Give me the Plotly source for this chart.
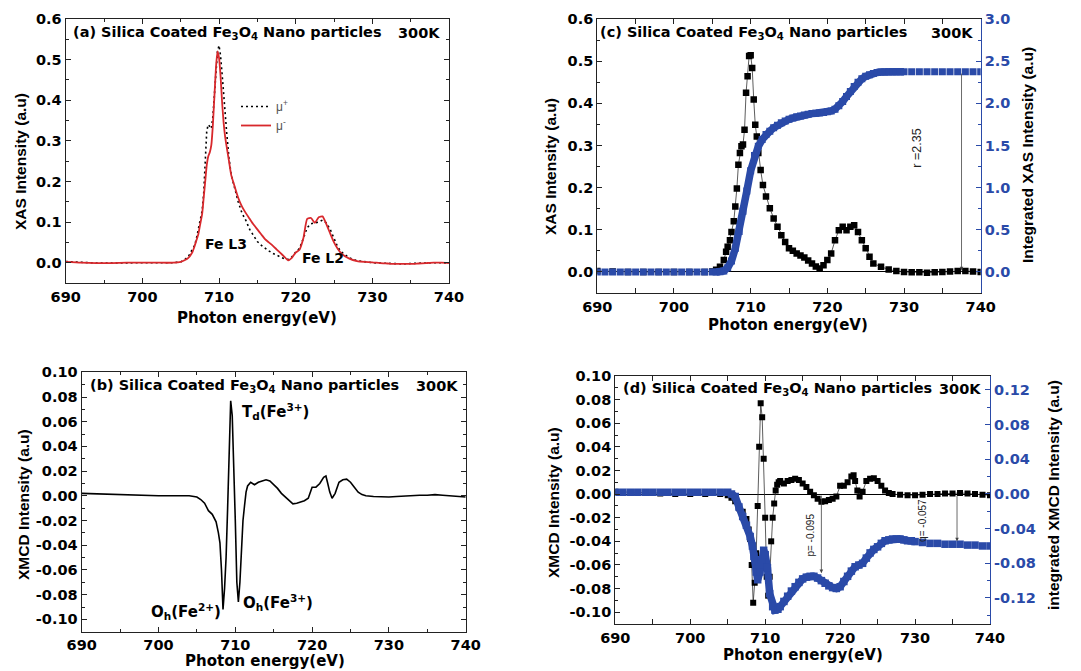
import plotly.graph_objects as go

W, H = 1081, 671
BLUE = '#2a4aa8'
RED = '#d8282c'
AX = '#222222'

# ---------------- data ----------------
E_xas = [690, 692, 694, 696, 698, 700, 702, 704,
         705, 705.5, 706, 706.5, 706.8, 707, 707.3, 707.5, 707.8, 708,
         708.2, 708.4, 708.6, 708.8, 709, 709.2, 709.4, 709.6, 709.8, 710,
         710.2, 710.4, 710.6, 710.8, 711, 711.3, 711.6, 712, 712.5, 713,
         713.5, 714, 714.5, 715, 715.5, 716, 716.5, 717, 717.5, 718, 718.5, 719, 719.5, 720,
         720.5, 721, 721.5, 722, 722.5, 723, 723.5, 724, 724.5, 725,
         725.5, 726, 727, 728, 729, 730, 731, 732, 733, 734,
         735, 736, 737, 738, 739, 740]

mu_plus = [0.003, 0.001, -0.001, -0.001, 0.0, 0.0, 0.0, 0.0,
           0.002, 0.007, 0.015, 0.03, 0.042, 0.055, 0.08, 0.1, 0.128, 0.17,
           0.25, 0.325, 0.34, 0.335, 0.33, 0.36, 0.42, 0.48, 0.52, 0.535,
           0.51, 0.465, 0.41, 0.36, 0.32, 0.258, 0.215, 0.187, 0.15, 0.122,
           0.104, 0.082, 0.068, 0.052, 0.043, 0.035, 0.029, 0.023, 0.018, 0.013, 0.01, 0.008, 0.014, 0.026,
           0.035, 0.06, 0.086, 0.096, 0.098, 0.1, 0.105, 0.098, 0.082, 0.06,
           0.038, 0.026, 0.012, 0.005, 0.002, 0.0, -0.001, -0.002, -0.003, -0.003,
           -0.002, -0.001, -0.001, 0.0, 0.0, -0.001]

mu_minus = [0.002, 0.0, -0.001, -0.001, 0.0, 0.0, 0.0, 0.0,
            0.002, 0.006, 0.012, 0.025, 0.04, 0.052, 0.07, 0.09, 0.12, 0.16,
            0.2, 0.24, 0.262, 0.272, 0.29, 0.34, 0.41, 0.48, 0.52, 0.505,
            0.46, 0.395, 0.345, 0.31, 0.285, 0.25, 0.215, 0.19, 0.16, 0.138,
            0.122, 0.108, 0.094, 0.082, 0.07, 0.058, 0.05, 0.042, 0.033, 0.024, 0.015, 0.006, 0.012, 0.025,
            0.032, 0.06, 0.108, 0.11, 0.098, 0.112, 0.114, 0.095, 0.072, 0.05,
            0.034, 0.022, 0.01, 0.004, 0.002, 0.001, -0.001, -0.002, -0.003, -0.003,
            -0.003, -0.002, -0.001, 0.0, 0.0, -0.001]

xas_avg = [0.002, 0.001, 0.0, 0.0, 0.0, 0.0, 0.0, 0.0,
           0.001, 0.005, 0.012, 0.028, 0.048, 0.06, 0.075, 0.095, 0.12, 0.155,
           0.198, 0.254, 0.282, 0.298, 0.302, 0.337, 0.425, 0.464, 0.512, 0.514,
           0.484, 0.409, 0.349, 0.321, 0.282, 0.242, 0.206, 0.179, 0.151, 0.127,
           0.107, 0.087, 0.071, 0.056, 0.05, 0.044, 0.039, 0.034, 0.027, 0.020, 0.013, 0.008, 0.016, 0.028,
           0.044, 0.075, 0.099, 0.107, 0.099, 0.107, 0.111, 0.095, 0.075, 0.056,
           0.036, 0.020, 0.012, 0.006, 0.002, 0.000, -0.001, -0.001, -0.002, -0.001,
           0.000, 0.001, 0.002, 0.002, 0.001, 0.000]

E_int = [690, 691, 692, 693, 694, 695, 696, 697, 698, 699, 700, 701, 702, 703, 704, 705,
         705.5, 706, 706.5, 707, 707.5, 708, 708.5, 709, 709.5, 710, 710.5, 711, 711.5,
         712, 712.5, 713, 713.5, 714, 714.5, 715, 715.5, 716, 716.5, 717, 717.5, 718,
         718.5, 719, 719.5, 720, 720.5, 721, 721.5, 722, 722.5, 723, 723.5, 724, 724.5,
         725, 725.5, 726, 726.5, 727, 727.5, 728, 728.5, 729, 729.5, 730,
         731, 732, 733, 734, 735, 736, 737, 738, 739, 740]

int_xas = [0.0] * 16 + [
    0.0, 0.002, 0.012, 0.05, 0.13, 0.28, 0.48, 0.72, 0.96, 1.2, 1.38, 1.49, 1.57,
    1.63, 1.67, 1.71, 1.74, 1.77, 1.79, 1.81, 1.825, 1.84, 1.85, 1.86, 1.87, 1.878,
    1.882, 1.885, 1.89, 1.9, 1.91, 1.93, 1.97, 2.02, 2.08, 2.14, 2.2, 2.25, 2.29,
    2.32, 2.34, 2.355, 2.365, 2.37, 2.372, 2.373, 2.374, 2.375, 2.375, 2.375,
    2.375, 2.375, 2.375, 2.375, 2.375, 2.375, 2.375, 2.375, 2.375, 2.375]

E_xmcd = [690, 692, 694, 696, 698, 700, 702, 704,
          705, 705.5, 706, 706.5, 707, 707.5, 707.8, 708, 708.2, 708.4,
          708.6, 708.8, 709, 709.2, 709.4, 709.6, 709.8, 710, 710.2, 710.4,
          710.6, 710.8, 711, 711.2, 711.4, 711.6, 711.8, 712, 712.5, 713,
          713.5, 714, 714.5, 715, 715.5, 716, 716.5, 717, 717.5, 718,
          718.5, 719, 719.5, 720, 720.5, 721, 721.5, 721.8, 722, 722.3,
          722.6, 723, 723.5, 724, 724.5, 725, 725.5, 726, 726.5, 727,
          728, 729, 730, 731, 732, 733, 734, 735, 736, 737, 738, 739, 740]

xmcd = [0.002, 0.0015, 0.001, 0.0005, 0.0, 0.0, 0.0, 0.0,
        -0.001, -0.003, -0.006, -0.012, -0.015, -0.021, -0.03, -0.038, -0.06, -0.092,
        -0.075, -0.05, -0.01, 0.04, 0.077, 0.065, 0.03, -0.02, -0.07, -0.086,
        -0.07, -0.04, -0.02, -0.008, 0.003, 0.008, 0.01, 0.011, 0.009, 0.011,
        0.012, 0.013, 0.012, 0.009, 0.006, 0.002, -0.001, -0.004, -0.0065, -0.006,
        -0.005, -0.004, -0.002, 0.007, 0.007, 0.01, 0.015, 0.016, 0.011, 0.003,
        -0.002, 0.002, 0.011, 0.013, 0.0135, 0.011, 0.007, 0.003, 0.001, 0.0,
        -0.0005, -0.001, -0.001, -0.0005, 0.0, 0.0, 0.0005, 0.0005, 0.001, 0.0005, 0.0, -0.0005, -0.001]

E_int_xmcd = [690, 691, 692, 693, 694, 695, 696, 697, 698, 699, 700, 701, 702, 703, 704, 705,
              705.5, 706, 706.5, 707, 707.5, 708, 708.3, 708.5, 708.8, 709, 709.3, 709.5,
              709.8, 710, 710.3, 710.6, 711, 711.3, 711.7,
              712, 712.5, 713, 713.5, 714, 714.5, 715, 715.5, 716, 716.5, 717, 717.5, 718,
              718.5, 719, 719.5, 720, 720.5, 721, 721.5, 722, 722.5, 723, 723.5, 724, 724.5,
              725, 725.5, 726, 726.5, 727, 727.5, 728, 728.5, 729, 729.5, 730,
              731, 732, 733, 734, 735, 736, 737, 738, 739, 740]

int_xmcd = [0.002] * 16 + [
    0.0, -0.003, -0.015, -0.026, -0.036, -0.049, -0.06, -0.072, -0.09, -0.099, -0.09,
    -0.076, -0.065, -0.07, -0.085, -0.115, -0.13, -0.134, -0.133,
    -0.13, -0.124, -0.118, -0.112, -0.107, -0.102, -0.098, -0.096, -0.095, -0.095,
    -0.097, -0.1, -0.103, -0.106, -0.108, -0.109, -0.107, -0.101, -0.095, -0.089,
    -0.084, -0.082, -0.08, -0.074, -0.068, -0.064, -0.061, -0.057, -0.054, -0.053,
    -0.052, -0.052, -0.052, -0.053, -0.054, -0.054, -0.055,
    -0.056, -0.057, -0.057, -0.058, -0.058, -0.058, -0.059, -0.059, -0.06, -0.06]

assert len(E_xas) == len(mu_plus) == len(mu_minus) == len(xas_avg)
assert len(E_int) == len(int_xas)
assert len(E_xmcd) == len(xmcd)
assert len(E_int_xmcd) == len(int_xmcd)

xas_ticks = [0.0, 0.1, 0.2, 0.3, 0.4, 0.5, 0.6]
xas_ticklabels = ['0.0', '0.1', '0.2', '0.3', '0.4', '0.5', '0.6']
int_xas_ticks = [0.0, 0.5, 1.0, 1.5, 2.0, 2.5, 3.0]
int_xas_ticklabels = ['0.0', '0.5', '1.0', '1.5', '2.0', '2.5', '3.0']
xmcd_ticks = [-0.10, -0.08, -0.06, -0.04, -0.02, 0.0, 0.02, 0.04, 0.06, 0.08, 0.10]
xmcd_ticklabels = ['-0.10', '-0.08', '-0.06', '-0.04', '-0.02', '0.00',
                   '0.02', '0.04', '0.06', '0.08', '0.10']
int_xmcd_ticks = [-0.12, -0.08, -0.04, 0.0, 0.04, 0.08, 0.12]
int_xmcd_ticklabels = ['-0.12', '-0.08', '-0.04', '0.00', '0.04', '0.08', '0.12']

# ---------------- helpers ----------------
def px(x):
    return x / W

def py(y):
    return 1 - y / H

TICKFONT = dict(family='DejaVu Sans', size=14.5, color='black', weight='bold')

def xaxis_cfg(dom, anchor):
    return dict(domain=dom, anchor=anchor, range=[690, 740], tick0=690, dtick=10,
                showline=True, linecolor=AX, linewidth=1.3, mirror='allticks',
                ticks='inside', ticklen=5, tickwidth=1.2, tickcolor=AX,
                minor=dict(dtick=5, tick0=690, ticks='inside', ticklen=3, tickcolor=AX),
                showgrid=False, zeroline=False, tickfont=TICKFONT, automargin=False)

def yaxis_cfg(dom, anchor, rng, tv, tt, minor_vals, mirror, color=AX, tickcolor='black', **kw):
    d = dict(domain=dom, anchor=anchor, range=rng, tickmode='array', tickvals=tv, ticktext=tt,
             showline=True, linecolor=color, linewidth=1.3, mirror=mirror,
             ticks='inside', ticklen=5, tickwidth=1.2, tickcolor=color,
             minor=dict(tickmode='array', tickvals=minor_vals, ticks='inside', ticklen=3,
                        tickcolor=color),
             showgrid=False, zeroline=False, automargin=False,
             tickfont=dict(TICKFONT, color=tickcolor))
    d.update(kw)
    return d

fig = go.Figure()

# ---- (a) ----
fig.add_trace(go.Scatter(x=E_xas, y=mu_plus, mode='lines', name='μ<sup>+</sup>',
                         line=dict(color='black', width=1.6, dash='2px,3px'),
                         xaxis='x', yaxis='y'))
fig.add_trace(go.Scatter(x=E_xas, y=mu_minus, mode='lines', name='μ<sup>-</sup>',
                         line=dict(color=RED, width=1.8, shape='spline', smoothing=0.5),
                         xaxis='x', yaxis='y'))

# ---- (b) ----
fig.add_trace(go.Scatter(x=E_xmcd, y=xmcd, mode='lines', showlegend=False,
                         line=dict(color='black', width=1.6),
                         xaxis='x2', yaxis='y2'))

# ---- (c) ----
dense_E = [e for e in E_int if 705 < e <= 730]
dense_v = [v for e, v in zip(E_int, int_xas) if 705 < e <= 730]
fig.add_trace(go.Scatter(x=dense_E, y=dense_v, mode='lines', showlegend=False,
                         line=dict(color=BLUE, width=7.5), xaxis='x3', yaxis='y4'))
fig.add_trace(go.Scatter(x=E_int, y=int_xas, mode='markers', showlegend=False,
                         marker=dict(symbol='square', size=7, color=BLUE),
                         xaxis='x3', yaxis='y4'))
fig.add_trace(go.Scatter(x=E_xas, y=xas_avg, mode='lines+markers', showlegend=False,
                         line=dict(color='#333', width=0.8),
                         marker=dict(symbol='square', size=6.5, color='black'),
                         xaxis='x3', yaxis='y3'))

# ---- (d) ----
dense_E2 = [e for e in E_int_xmcd if 705 < e <= 730]
dense_v2 = [v for e, v in zip(E_int_xmcd, int_xmcd) if 705 < e <= 730]
fig.add_trace(go.Scatter(x=dense_E2, y=dense_v2, mode='lines', showlegend=False,
                         line=dict(color=BLUE, width=7.5), xaxis='x4', yaxis='y6'))
fig.add_trace(go.Scatter(x=E_int_xmcd, y=int_xmcd, mode='markers', showlegend=False,
                         marker=dict(symbol='square', size=7.5, color=BLUE),
                         xaxis='x4', yaxis='y6'))
fig.add_trace(go.Scatter(x=E_xmcd, y=xmcd, mode='lines+markers', showlegend=False,
                         line=dict(color='#333', width=0.8),
                         marker=dict(symbol='square', size=6, color='black'),
                         xaxis='x4', yaxis='y5'))

# ---------------- axes ----------------
dom_a_x = [px(65.7), px(449)]
dom_a_y = [py(283), py(19)]
dom_c_x = [px(597.3), px(980.7)]
dom_c_y = [py(293), py(19)]
dom_b_x = [px(81.7), px(465.7)]
dom_b_y = [py(631.7), py(372.3)]
dom_d_x = [px(615.3), px(990)]
dom_d_y = [py(624), py(376)]

xas_minor = [0.05, 0.15, 0.25, 0.35, 0.45, 0.55]
int_xas_minor = [0.25, 0.75, 1.25, 1.75, 2.25, 2.75]
xmcd_minor = [-0.09, -0.07, -0.05, -0.03, -0.01, 0.01, 0.03, 0.05, 0.07, 0.09]
int_xmcd_minor = [-0.14, -0.10, -0.06, -0.02, 0.02, 0.06, 0.10]

fig.update_layout(
    template='none',
    xaxis=xaxis_cfg(dom_a_x, 'y'),
    yaxis=yaxis_cfg(dom_a_y, 'x', [-0.05, 0.6], xas_ticks, xas_ticklabels, xas_minor, 'allticks'),
    xaxis2=xaxis_cfg(dom_b_x, 'y2'),
    yaxis2=yaxis_cfg(dom_b_y, 'x2', [-0.11, 0.10], xmcd_ticks, xmcd_ticklabels, xmcd_minor, 'allticks'),
    xaxis3=xaxis_cfg(dom_c_x, 'y3'),
    yaxis3=yaxis_cfg(dom_c_y, 'x3', [-0.05, 0.6], xas_ticks, xas_ticklabels, xas_minor, False,
                     zeroline=True, zerolinecolor='black', zerolinewidth=1),
    yaxis4=yaxis_cfg(dom_c_y, 'x3', [-0.25, 3.0], int_xas_ticks, int_xas_ticklabels, int_xas_minor,
                     False, color=BLUE, tickcolor=BLUE, overlaying='y3', side='right'),
    xaxis4=xaxis_cfg(dom_d_x, 'y5'),
    yaxis5=yaxis_cfg(dom_d_y, 'x4', [-0.11, 0.10], xmcd_ticks, xmcd_ticklabels, xmcd_minor, False,
                     zeroline=True, zerolinecolor='black', zerolinewidth=1),
    yaxis6=yaxis_cfg(dom_d_y, 'x4', [-0.15, 0.136], int_xmcd_ticks, int_xmcd_ticklabels,
                     int_xmcd_minor, False, color=BLUE, tickcolor=BLUE, overlaying='y5', side='right'),
)

# ---------------- annotations ----------------
ann = []
TITLE_FONT = dict(family='DejaVu Sans', size=14.5, color='black')
YT_FONT = dict(family='Liberation Sans', size=15.5, color='black')
XT_FONT = dict(family='DejaVu Sans', size=15, color='black')

def text(t, x, y, xanchor='center', yanchor='middle', font=None, angle=0, xref='paper', yref='paper'):
    ann.append(dict(text=t, x=x, y=y, xref=xref, yref=yref, xanchor=xanchor, yanchor=yanchor,
                    showarrow=False, font=font or TITLE_FONT, textangle=angle))

fe = 'Fe<sub>3</sub>O<sub>4</sub>'
# panel titles
text('<b>(a) Silica Coated %s Nano particles</b>' % fe, px(70.5), py(33), 'left', font=TITLE_FONT)
text('<b>300K</b>', px(442), py(33), 'right', font=TITLE_FONT)
text('<b>(c) Silica Coated %s Nano particles</b>' % fe, px(597.5), py(33), 'left', font=TITLE_FONT)
text('<b>300K</b>', px(975), py(33), 'right', font=TITLE_FONT)
text('<b>(b) Silica Coated %s Nano particles</b>' % fe, px(87.5), py(386), 'left', font=TITLE_FONT)
text('<b>300K</b>', px(460), py(386), 'right', font=TITLE_FONT)
text('<b>(d) Silica Coated %s Nano particles</b>' % fe, px(621), py(389), 'left', font=TITLE_FONT)
text('<b>300K</b>', px(983), py(389), 'right', font=TITLE_FONT)

# axis titles
text('<b>XAS Intensity (a.u)</b>', px(20), py(162), font=YT_FONT, angle=-90)
text('<b>Photon energy(eV)</b>', px(257), py(318), font=XT_FONT)
text('<b>XMCD Intensity (a.u)</b>', px(23), py(505), font=YT_FONT, angle=-90)
text('<b>Photon energy(eV)</b>', px(265), py(661), font=XT_FONT)
text('<b>XAS Intensity (a.u)</b>', px(550), py(167), font=YT_FONT, angle=-90)
text('<b>Integrated XAS Intensity (a.u)</b>', px(1027), py(155), font=YT_FONT, angle=-90)
text('<b>Photon energy(eV)</b>', px(788), py(325), font=XT_FONT)
text('<b>XMCD Intensity (a.u)</b>', px(553), py(503), font=YT_FONT, angle=-90)
text('<b>integrated XMCD Intensity (a.u)</b>', px(1053), py(495), font=YT_FONT, angle=-90)
text('<b>Photon energy(eV)</b>', px(803), py(655), font=XT_FONT)

# in-plot labels
LBL = dict(family='DejaVu Sans', size=14, color='black')
text('<b>Fe L3</b>', 707.9, 0.046, 'left', font=LBL, xref='x', yref='y')
text('<b>Fe L2</b>', 720.6, 0.012, 'left', font=LBL, xref='x', yref='y')
LBL2 = dict(family='DejaVu Sans', size=15, color='black')
text('<b>T<sub>d</sub>(Fe<sup>3+</sup>)</b>', 710.6, 0.068, 'left', font=LBL2, xref='x2', yref='y2')
text('<b>O<sub>h</sub>(Fe<sup>2+</sup>)</b>', 708.4, -0.094, 'right', font=LBL2, xref='x2', yref='y2')
text('<b>O<sub>h</sub>(Fe<sup>3+</sup>)</b>', 710.7, -0.086, 'left', font=LBL2, xref='x2', yref='y2')

SMALL = dict(family='Liberation Sans', size=12.5, color='#222')
text('r =2.35', 731.65, 0.294, font=SMALL, angle=-90, xref='x3', yref='y3')
TINY = dict(family='Liberation Sans', size=10, color='#222')
text('p= -0.095', 716.0, -0.035, font=TINY, angle=-90, xref='x4', yref='y5')
text('q= -0.057', 730.9, -0.022, font=TINY, angle=-90, xref='x4', yref='y5')

def arrow(x, y0, y1, xr, yr):
    ann.append(dict(text='', x=x, y=y1, ax=x, ay=y0, xref=xr, yref=yr, axref=xr, ayref=yr,
                    showarrow=True, arrowhead=2, arrowsize=0.9, arrowwidth=0.8,
                    arrowcolor='#444'))

arrow(737.5, 0.474, 0.004, 'x3', 'y3')
arrow(717.5, 0.0, -0.067, 'x4', 'y5')
arrow(735.6, 0.0, -0.040, 'x4', 'y5')

fig.update_layout(
    annotations=ann,
    width=W, height=H,
    margin=dict(l=0, r=0, t=0, b=0, pad=0),
    paper_bgcolor='white', plot_bgcolor='white',
    showlegend=True,
    legend=dict(x=px(236), y=py(92), xanchor='left', yanchor='top',
                bgcolor='rgba(0,0,0,0)', font=dict(family='Liberation Sans', size=12, color='#555'),
                tracegroupgap=0, itemwidth=30),
)

fig.write_html('out.html', config={'displayModeBar': False},
               post_script="document.body.style.margin='0';document.body.style.padding='0';"
                           "document.body.style.overflow='hidden';")
